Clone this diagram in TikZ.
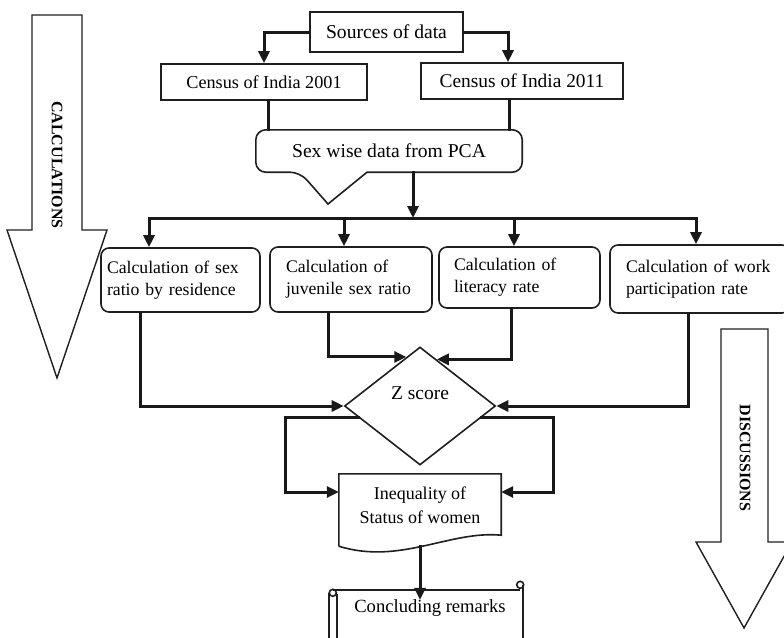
\documentclass[tikz,border=0pt]{standalone}
\usepackage{fontspec}
\setmainfont{Liberation Serif}
\usetikzlibrary{arrows.meta,shapes.geometric,calc}

\begin{document}
\begin{tikzpicture}[x=1pt,y=-1pt,
		every node/.style={inner sep=0pt},
		boxline/.style={draw=black!88,line width=1.6pt},
		conn/.style={draw=black!90,line width=3pt,line cap=rect,-{Triangle[length=12pt,width=11pt]}},
		plain/.style={draw=black!90,line width=3pt,line cap=rect},
		databox/.style={boxline,fill=white,rectangle},
		calcbox/.style={boxline,fill=white,rounded corners=8pt,align=left,font=\fontsize{17.7}{22}\selectfont},
		bigarrow/.style={draw=black!88,line width=1.4pt,fill=white},
		sidetext/.style={rotate=-90,font=\fontsize{16}{18}\selectfont\bfseries}]
		\useasboundingbox (0,0) rectangle (784,637);
		\clip (0,0) rectangle (784,637);
		% side arrows
		\draw [bigarrow] (32,15) -- (82,15) -- (82,230) -- (107,230) -- (57,378) -- (7,230) -- (32,230) -- cycle;
		\node [sidetext] (calc) at (57,165) {CALCULATIONS};
		\draw [bigarrow] (721,329) -- (768,329) -- (768,542) -- (792,542) -- (744,628) -- (696,542) -- (721,542) -- cycle;
		\node [sidetext] (disc) at (745,458) {DISCUSSIONS};
		% sources
		\node [databox,minimum width=153pt,minimum height=40pt,font=\fontsize{19.6}{22}\selectfont] (src) at (386.5,32) {Sources of data};
		\node [databox,minimum width=206pt,minimum height=36pt,font=\fontsize{18.2}{22}\selectfont] (c01) at (264,82) {Census of India 2001};
		\node [databox,minimum width=202pt,minimum height=36pt,font=\fontsize{19.4}{22}\selectfont] (c11) at (522,81) {Census of India 2011};
		\draw [conn] (src.west) -| (c01.north);
		\draw [conn] (src.east) -| ([xshift=-14pt]c11.north);
		% PCA callout
		\node [minimum width=266pt,minimum height=42pt,font=\fontsize{19.6}{22}\selectfont] (pca) at (389,151) {Sex wise data from PCA};
		\coordinate (tip) at (328,204);
		\draw [plain] ([xshift=4pt]c01.south) -- ([xshift=4pt]c01.south |- pca.north);
		\draw [plain] ([xshift=-13pt]c11.south) -- ([xshift=-13pt]c11.south |- pca.north);
		\draw [boxline] [rounded corners=10pt] ([xshift=-22pt]pca.south) -- (pca.south east) -- (pca.north east) -- (pca.north west) -- (pca.south west) -- ([xshift=-89pt]pca.south) [sharp corners] -- (tip) -- cycle;
		% bus
		\coordinate (bus) at (413,218);
		\coordinate (j1) at (149,218);
		\coordinate (j2) at (344,218);
		\coordinate (j3) at (514,218);
		\coordinate (j4) at (696,218);
		\draw [conn] ([xshift=24pt]pca.south) -- (bus);
		\draw [plain] (j1) -- (j4);
		% calculation boxes
		\node [calcbox,minimum width=159pt,minimum height=64pt,text width=147pt] (b1) at (180.5,280) {Calculation of sex\\ratio by residence};
		\node [calcbox,minimum width=162pt,minimum height=65pt,text width=130pt] (b2) at (351,279.5) {Calculation of\\juvenile sex ratio};
		\node [calcbox,minimum width=161pt,minimum height=61pt,text width=131pt] (b3) at (519.5,277.5) {Calculation of\\literacy rate};
		\node [calcbox,minimum width=180pt,minimum height=68pt,text width=148pt] (b4) at (700,279) {Calculation of work\\participation rate};
		\draw [conn] (j1) -- (j1 |- b1.north);
		\draw [conn] (j2) -- (j2 |- b2.north);
		\draw [conn] (j3) -- (j3 |- b3.north);
		\draw [conn] (j4) -- (j4 |- b4.north);
		% Z score
		\node [boxline,diamond,minimum width=151pt,minimum height=118pt,
			label={[font=\fontsize{19.5}{22}\selectfont,yshift=13pt]center:Z score}] (zs) at (420,406) {};
		\draw [conn] ([xshift=-40pt]b1.south) |- (zs.west);
		\draw [conn] ([xshift=-23pt]b2.south) |- ($(zs.north)!0.18!(zs.west)$);
		\draw [conn] ([xshift=-8pt]b3.south) |- ($(zs.north)!0.22!(zs.east)$);
		\draw [conn] ([xshift=-12pt]b4.south) |- (zs.east);
		% inequality
		\node [align=center,minimum width=162pt,minimum height=62pt,font=\fontsize{18}{24}\selectfont] (ineq) at (420,505) {Inequality of\\Status of women};
		\draw [boxline] ([yshift=-10pt]ineq.south west) -- (ineq.north west) -- (ineq.north east) -- ([yshift=1pt]ineq.south east)
			.. controls ($(ineq.south)+(30,-6)$) and ($(ineq.south)+(-20,29)$) .. ([yshift=-10pt]ineq.south west);
		\draw [conn] ($(zs.west)!0.2!(zs.south)$) -- ++(-73,0) |- ([yshift=13pt]ineq.west);
		\draw [conn] ($(zs.east)!0.2!(zs.south)$) -- ++(72,0) |- ([yshift=13pt]ineq.east);
		% concluding scroll
		\node [minimum width=186pt,minimum height=36pt,font=\fontsize{18.6}{22}\selectfont] (concl) at (430,608) {Concluding remarks};
		\draw [conn] ([yshift=-10pt]ineq.south) -- ([yshift=-10pt]ineq.south |- concl.north);
		\draw [boxline] ([xshift=-4pt]concl.north west) -- ([xshift=-3pt]concl.north east);
		\draw [boxline] ([xshift=-3pt,yshift=5pt]concl.north east) circle (3.5pt);
		\draw [boxline] ([yshift=5pt]concl.north east) -- ([yshift=-30pt]concl.south east);
		\draw [boxline] ([xshift=-4pt,yshift=-3pt]concl.north west) circle (3.5pt);
		\draw [boxline] ([xshift=-8pt,yshift=-3pt]concl.north west) -- ([xshift=-8pt,yshift=-30pt]concl.south west);
		\draw [boxline] ([yshift=-4pt]concl.north west) -- ([yshift=-30pt]concl.south west);
	\end{tikzpicture}
\end{document}
